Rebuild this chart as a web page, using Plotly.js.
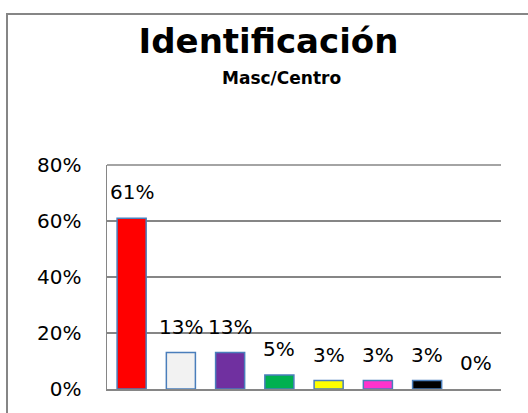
<!DOCTYPE html>
<html>
<head>
<meta charset="utf-8">
<script src="https://cdn.plot.ly/plotly-3.0.1.min.js"></script>
<style>html,body{margin:0;padding:0;background:#fff;overflow:hidden;}#chart{width:528px;height:413px;}</style>
</head>
<body>
<div id="chart"></div>
<script>
var categories = ['C1','C2','C3','C4','C5','C6','C7','C8'];
var values = [0.61, 0.13, 0.13, 0.05, 0.03, 0.03, 0.03, 0.00];
var labels = ['61%','13%','13%','5%','3%','3%','3%','0%'];
var barColors = ['#FF0000','#F2F2F2','#7030A0','#00B050','#FFFF00','#FF33CC','#000000','#FFFFFF'];
var barLineColors = ['#4A7EBB','#4A7EBB','#4A7EBB','#4A7EBB','#4A7EBB','#4A7EBB','#4A7EBB','rgba(0,0,0,0)'];
var yTicks = [0, 0.2, 0.4, 0.6, 0.8];
var yTickText = ['0%','20%','40%','60%','80%'];

var FONT = 'DejaVu Sans, sans-serif';
var L = 107, R = 501, T = 165, B = 389, W = 528, H = 413;
var pw = R - L, ph = B - T;
function px2x(px){ return (px - L) / pw; }
function px2y(py){ return (B - py) / ph; }

var annotations = categories.map(function(c, i){
  return {x: c, y: values[i], xref: 'x', yref: 'y', text: labels[i], showarrow: false,
    yanchor: 'bottom', yshift: 12, font: {family: FONT, size: 20, color: '#000'}};
});
annotations.push({xref: 'paper', yref: 'paper', x: px2x(281.5), y: px2y(90), xanchor: 'center', yanchor: 'bottom',
  text: '<b>Masc/Centro</b>', showarrow: false, font: {family: FONT, size: 17, color: '#000'}});

var trace = {
  type: 'bar', x: categories, y: values,
  marker: {color: barColors, line: {color: barLineColors, width: 1.5}},
  hoverinfo: 'skip'
};

var layout = {
  width: W, height: H,
  margin: {l: L, r: W - R, t: T, b: H - B, pad: 0},
  paper_bgcolor: '#fff', plot_bgcolor: '#fff',
  showlegend: false,
  bargap: 0.41,
  title: {text: '<b>Identificación</b>', font: {family: FONT, size: 34, color: '#000'},
    x: 268.5 / W, xanchor: 'center', xref: 'container', yref: 'container', y: 1 - 52.5 / H, yanchor: 'bottom'},
  xaxis: {type: 'category', showticklabels: false, ticks: '', showgrid: false,
    showline: true, linecolor: '#868686', linewidth: 1.5, zeroline: false, fixedrange: true},
  yaxis: {range: [0, 0.8], tickvals: yTicks, ticktext: yTickText,
    tickfont: {family: FONT, size: 20, color: '#000'},
    ticks: 'outside', ticklen: 20, tickcolor: 'rgba(0,0,0,0)',
    showgrid: true, gridcolor: '#868686', gridwidth: 1.5,
    showline: true, linecolor: '#868686', linewidth: 1.5, zeroline: false, fixedrange: true},
  annotations: annotations,
  shapes: [
    {type: 'line', xref: 'paper', yref: 'paper', x0: px2x(7), x1: px2x(7), y0: px2y(13), y1: px2y(413), line: {color: '#868686', width: 2}},
    {type: 'line', xref: 'paper', yref: 'paper', x0: px2x(6), x1: px2x(528), y0: px2y(14), y1: px2y(14), line: {color: '#868686', width: 2}},
    {type: 'line', xref: 'paper', yref: 'paper', x0: 0, x1: 1, y0: 1, y1: 1, line: {color: '#868686', width: 1.5}}
  ]
};

Plotly.newPlot('chart', [trace], layout, {displayModeBar: false, staticPlot: true});
</script>
</body>
</html>
